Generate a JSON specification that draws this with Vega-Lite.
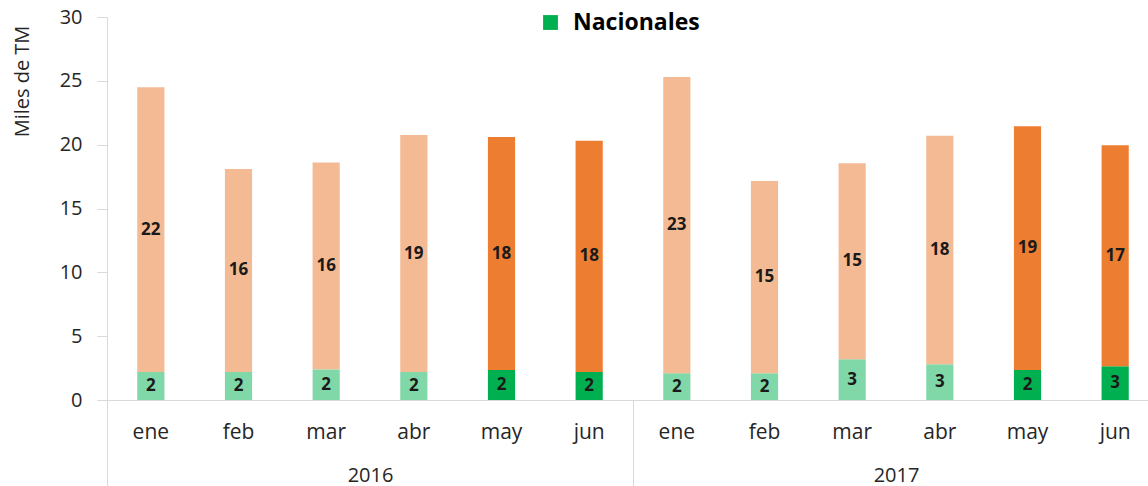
{
  "$schema": "https://vega.github.io/schema/vega-lite/v6.json",
  "width": 1041,
  "height": 383,
  "autosize": {"type": "none"},
  "padding": {"left": 107, "top": 17, "right": 0, "bottom": 86},
  "config": {"view": {"stroke": null}, "font": "Open Sans", "axis": {"grid": false}},
  "layer": [
    {
      "data": {"values": [
        {"mes": "2016|ene", "serie": "Nacionales claro", "o": 0, "v": 2.2},
        {"mes": "2016|ene", "serie": "Importados claro", "o": 1, "v": 22.3},
        {"mes": "2016|feb", "serie": "Nacionales claro", "o": 0, "v": 2.2},
        {"mes": "2016|feb", "serie": "Importados claro", "o": 1, "v": 15.9},
        {"mes": "2016|mar", "serie": "Nacionales claro", "o": 0, "v": 2.4},
        {"mes": "2016|mar", "serie": "Importados claro", "o": 1, "v": 16.2},
        {"mes": "2016|abr", "serie": "Nacionales claro", "o": 0, "v": 2.2},
        {"mes": "2016|abr", "serie": "Importados claro", "o": 1, "v": 18.55},
        {"mes": "2016|may", "serie": "Nacionales", "o": 0, "v": 2.35},
        {"mes": "2016|may", "serie": "Importados", "o": 1, "v": 18.25},
        {"mes": "2016|jun", "serie": "Nacionales", "o": 0, "v": 2.2},
        {"mes": "2016|jun", "serie": "Importados", "o": 1, "v": 18.1},
        {"mes": "2017|ene", "serie": "Nacionales claro", "o": 0, "v": 2.1},
        {"mes": "2017|ene", "serie": "Importados claro", "o": 1, "v": 23.2},
        {"mes": "2017|feb", "serie": "Nacionales claro", "o": 0, "v": 2.1},
        {"mes": "2017|feb", "serie": "Importados claro", "o": 1, "v": 15.05},
        {"mes": "2017|mar", "serie": "Nacionales claro", "o": 0, "v": 3.2},
        {"mes": "2017|mar", "serie": "Importados claro", "o": 1, "v": 15.35},
        {"mes": "2017|abr", "serie": "Nacionales claro", "o": 0, "v": 2.8},
        {"mes": "2017|abr", "serie": "Importados claro", "o": 1, "v": 17.9},
        {"mes": "2017|may", "serie": "Nacionales", "o": 0, "v": 2.35},
        {"mes": "2017|may", "serie": "Importados", "o": 1, "v": 19.1},
        {"mes": "2017|jun", "serie": "Nacionales", "o": 0, "v": 2.65},
        {"mes": "2017|jun", "serie": "Importados", "o": 1, "v": 17.3}
      ]},
      "layer": [
        {
          "mark": {"type": "bar", "width": {"band": 0.31}},
          "encoding": {
            "x": {
              "field": "mes", "type": "nominal", "sort": null,
              "scale": {"range": [0, 1052], "paddingInner": 0, "paddingOuter": 0},
              "axis": {
                "orient": "bottom",
                "title": null, "labelExpr": "split(datum.label, '|')[1]",
                "ticks": false, "tickSize": 0, "domainColor": "#D9D9D9",
                "labelFontSize": 21, "labelColor": "#262626", "labelPadding": 32,
                "labelBaseline": "middle", "labelAngle": 0
              }
            },
            "y": {
              "field": "v", "type": "quantitative", "stack": "zero",
              "scale": {"domain": [0, 30]},
              "axis": {
                "title": "Miles de TM", "values": [0, 5, 10, 15, 20, 25, 30],
                "domainColor": "#D9D9D9", "tickColor": "#D9D9D9", "tickSize": 10,
                "labelFontSize": 20, "labelPadding": 15, "labelColor": "#262626",
                "titleFontSize": 20, "titleFontWeight": "normal", "titleColor": "#262626",
                "titleX": -85, "titleY": 64, "titleAlign": "center", "titleBaseline": "middle"
              }
            },
            "color": {
              "field": "serie", "type": "nominal",
              "scale": {
                "domain": ["Nacionales", "Nacionales claro", "Importados", "Importados claro"],
                "range": ["#00B050", "#80D8A8", "#ED7D31", "#F4BA94"]
              },
              "legend": {
                "values": ["Nacionales"], "orient": "none", "legendX": 432, "legendY": -6,
                "title": null, "symbolType": "square", "symbolSize": 220,
                "symbolStrokeWidth": 0, "labelFontSize": 23, "labelFontWeight": "bold",
                "labelColor": "#000000", "labelOffset": 11
              }
            },
            "order": {"field": "o"}
          }
        },
        {
          "mark": {"type": "text", "fontWeight": "bold", "fontSize": 17, "color": "#1a1a1a"},
          "encoding": {
            "x": {"field": "mes", "type": "nominal", "sort": null},
            "y": {"field": "v", "type": "quantitative", "stack": "zero", "bandPosition": 0.5},
            "detail": {"field": "serie"},
            "order": {"field": "o"},
            "text": {"field": "v", "type": "quantitative", "format": ".0f"}
          }
        }
      ]
    },
    {
      "data": {"values": [{"year": "2016"}, {"year": "2017"}]},
      "mark": {"type": "point", "opacity": 0},
      "encoding": {
        "x": {
          "field": "year", "type": "nominal",
          "scale": {"range": [0, 1052], "paddingInner": 0, "paddingOuter": 0},
          "axis": {
            "orient": "bottom",
            "title": null, "domain": false, "ticks": true, "tickBand": "extent",
            "tickSize": 86, "tickColor": "#D9D9D9", "tickWidth": 1,
            "labelFontSize": 20, "labelPadding": -11, "labelBaseline": "middle",
            "labelAngle": 0, "labelColor": "#262626"
          }
        }
      }
    }
  ],
  "resolve": {"scale": {"x": "independent"}}
}
